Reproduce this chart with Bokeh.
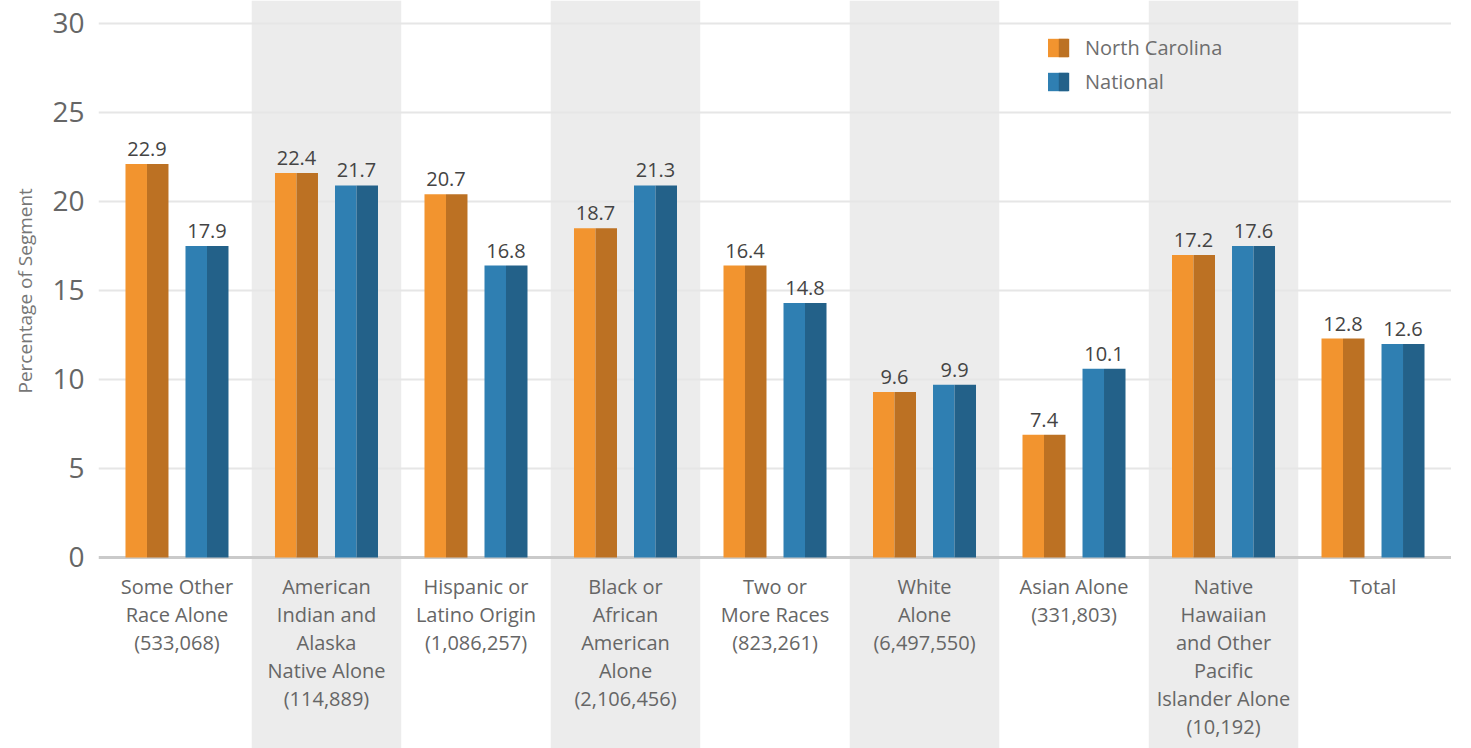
from bokeh.plotting import figure
from bokeh.models import ColumnDataSource, FactorRange, Range1d, FixedTicker, Span, Legend, LegendItem, Title
from bokeh.transform import dodge
from bokeh.core.properties import value
from bokeh.embed import file_html
from bokeh.resources import INLINE

# ---------------- data ----------------
categories = [
    "Some Other Race Alone",
    "American Indian and Alaska Native Alone",
    "Hispanic or Latino Origin",
    "Black or African American Alone",
    "Two or More Races",
    "White Alone",
    "Asian Alone",
    "Native Hawaiian and Other Pacific Islander Alone",
    "Total",
]
category_labels = [
    "Some Other\nRace Alone\n(533,068)",
    "American\nIndian and\nAlaska\nNative Alone\n(114,889)",
    "Hispanic or\nLatino Origin\n(1,086,257)",
    "Black or\nAfrican\nAmerican\nAlone\n(2,106,456)",
    "Two or\nMore Races\n(823,261)",
    "White\nAlone\n(6,497,550)",
    "Asian Alone\n(331,803)",
    "Native\nHawaiian\nand Other\nPacific\nIslander Alone\n(10,192)",
    "Total",
]
# bar heights as drawn in the chart
nc_values = [22.1, 21.6, 20.4, 18.5, 16.4, 9.3, 6.9, 17.0, 12.3]
national_values = [17.5, 20.9, 16.4, 20.9, 14.3, 9.7, 10.6, 17.5, 12.0]
# value labels as printed
nc_labels = ["22.9", "22.4", "20.7", "18.7", "16.4", "9.6", "7.4", "17.2", "12.8"]
national_labels = ["17.9", "21.7", "16.8", "21.3", "14.8", "9.9", "10.1", "17.6", "12.6"]
y_ticks = [0, 5, 10, 15, 20, 25, 30]
series_names = ["North Carolina", "National"]
y_title = "Percentage of Segment"

# ---------------- style ----------------
FONT = "Open Sans"
NC_LIGHT, NC_DARK = "#F2942F", "#BC7123"
NAT_LIGHT, NAT_DARK = "#2F7FB2", "#236189"
BAND = "#ECECEC"
Y_BOTTOM, Y_TOP = -10.73, 31.29
HALF = 0.1438
OFF = 0.2007

src = ColumnDataSource(dict(
    cat=categories, tick=category_labels,
    nc=nc_values, nat=national_values,
    nc_lab=nc_labels, nat_lab=national_labels,
))
band_src = ColumnDataSource(dict(cat=categories[1::2]))

p = figure(
    x_range=FactorRange(factors=categories, range_padding=0.025, range_padding_units="absolute"),
    y_range=Range1d(Y_BOTTOM, Y_TOP),
    width=1451, height=748,
    output_backend="svg", toolbar_location=None,
    min_border_left=98, min_border_right=0, min_border_top=0, min_border_bottom=0,
)
p.outline_line_color = None
p.background_fill_color = "white"
p.border_fill_color = "white"

# alternating shaded bands
p.vbar(x="cat", width=1.0, top=Y_TOP, bottom=Y_BOTTOM, source=band_src,
       fill_color=BAND, line_color=None, level="image")

# axes / grid
p.xaxis.visible = False
p.xgrid.visible = False
p.ygrid.ticker = FixedTicker(ticks=y_ticks[1:])
p.ygrid.grid_line_color = "#E6E6E6"
p.ygrid.grid_line_width = 2
p.add_layout(Span(location=0, dimension="width", line_color="#CACACA", line_width=3, level="underlay"))

ya = p.yaxis[0]
ya.ticker = FixedTicker(ticks=y_ticks)
ya.axis_line_color = None
ya.major_tick_line_color = None
ya.minor_tick_line_color = None
ya.major_label_standoff = 8
ya.major_label_text_font = FONT
ya.major_label_text_font_size = "28px"
ya.major_label_text_color = "#666666"

# y title, placed along the 0-30 span
p.add_layout(Title(text=y_title, align="left", offset=355, vertical_align="top", standoff=20,
                   text_font=FONT, text_font_size="19px", text_font_style="normal",
                   text_color="#777777"), "left")

# bars (each drawn as light + dark half)
r_nc = p.vbar(x=dodge("cat", -OFF - HALF / 2, range=p.x_range), top="nc", width=HALF,
              source=src, fill_color=NC_LIGHT, line_color=None)
r_nc2 = p.vbar(x=dodge("cat", -OFF + HALF / 2, range=p.x_range), top="nc", width=HALF,
               source=src, fill_color=NC_DARK, line_color=None)
r_nat = p.vbar(x=dodge("cat", OFF - HALF / 2, range=p.x_range), top="nat", width=HALF,
               source=src, fill_color=NAT_LIGHT, line_color=None)
r_nat2 = p.vbar(x=dodge("cat", OFF + HALF / 2, range=p.x_range), top="nat", width=HALF,
                source=src, fill_color=NAT_DARK, line_color=None)

# value labels
for col, lab, off in (("nc", "nc_lab", -OFF), ("nat", "nat_lab", OFF)):
    p.text(x=dodge("cat", off, range=p.x_range), y=col, text=lab, source=src,
           text_align="center", text_baseline="alphabetic", y_offset=-15,
           text_font=value(FONT), text_font_size="20px", text_color="#444444")

# category labels
p.text(x="cat", y=0, text="tick", source=src,
       text_align="center", text_baseline="top", y_offset=16, text_line_height=1.03,
       text_font=value(FONT), text_font_size="20px", text_color="#666666")

# legend (light half swatch + labels)
legend_kw = dict(orientation="vertical", padding=0, margin=0, spacing=6,
                 glyph_height=23, label_height=28,
                 label_text_font=FONT, label_text_font_size="20px", label_text_color="#6E6E6E",
                 border_line_color=None, background_fill_alpha=0)
legend = Legend(
    items=[LegendItem(label=series_names[0], renderers=[r_nc]),
           LegendItem(label=series_names[1], renderers=[r_nat])],
    location=(947, 653), glyph_width=25, label_standoff=15, **legend_kw,
)
p.add_layout(legend)
# dark half of each legend swatch
legend_dark = Legend(
    items=[LegendItem(label=" ", renderers=[r_nc2]),
           LegendItem(label=" ", renderers=[r_nat2])],
    location=(959, 653), glyph_width=13, label_standoff=0, **legend_kw,
)
p.add_layout(legend_dark)

open("out.html", "w").write(file_html(p, INLINE))
